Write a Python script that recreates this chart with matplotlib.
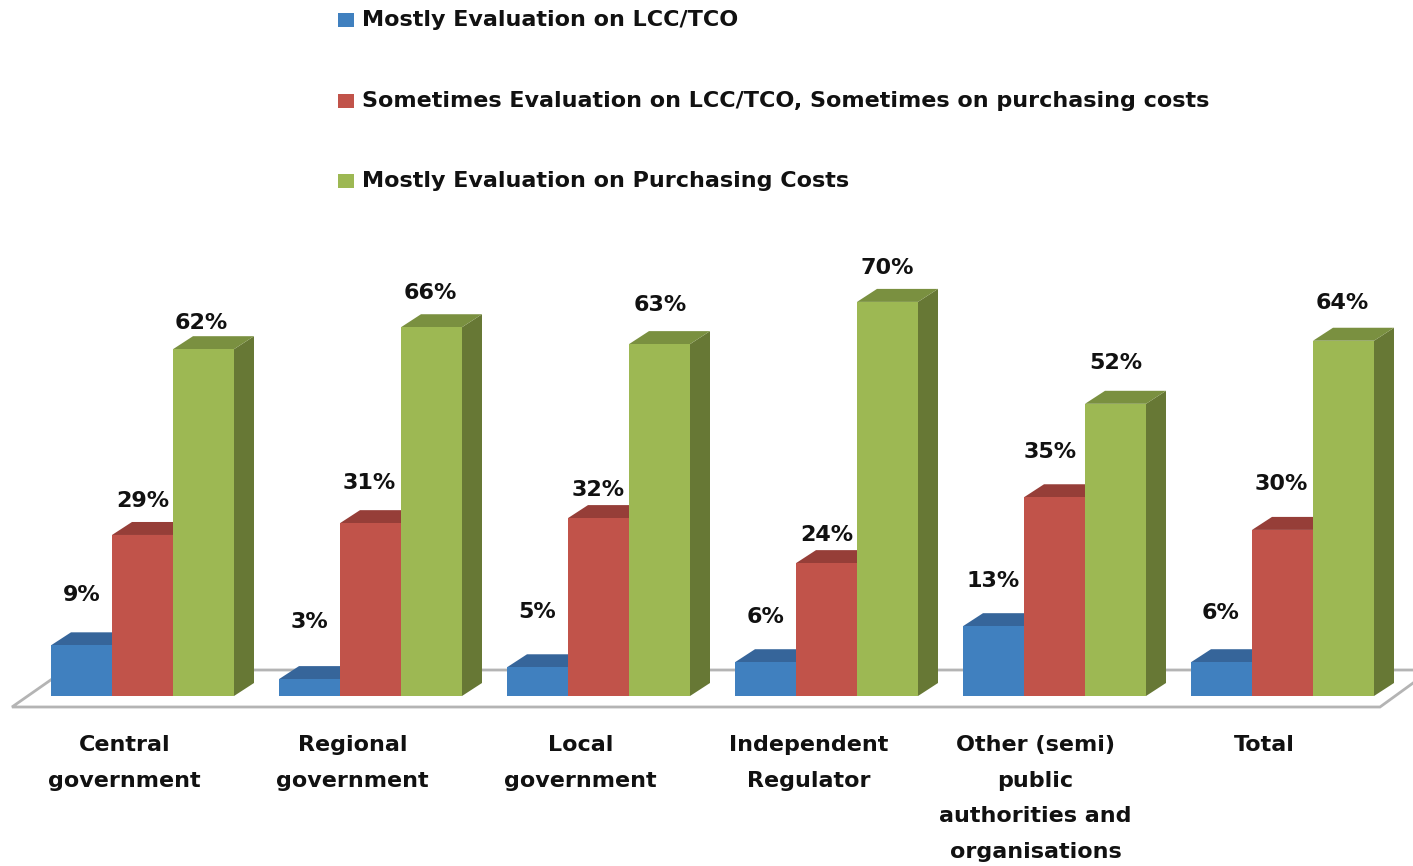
import numpy as np
import matplotlib
matplotlib.use("Agg")
import matplotlib.pyplot as plt
from matplotlib.patches import Polygon, Rectangle

categories = ["Central\ngovernment", "Regional\ngovernment", "Local\ngovernment",
              "Independent\nRegulator", "Other (semi)\npublic\nauthorities and\norganisations", "Total"]
series_names = ["Mostly Evaluation on LCC/TCO",
                "Sometimes Evaluation on LCC/TCO, Sometimes on purchasing costs",
                "Mostly Evaluation on Purchasing Costs"]
# printed labels
labels_lcc = ["9%", "3%", "5%", "6%", "13%", "6%"]
labels_some = ["29%", "31%", "32%", "24%", "35%", "30%"]
labels_purch = ["62%", "66%", "63%", "70%", "52%", "64%"]
# bar heights as drawn in the picture
mostly_lcc = [9.0, 3.0, 5.1, 6.0, 12.4, 6.0]
sometimes = [28.6, 30.7, 31.6, 23.6, 35.3, 29.5]
mostly_purchase = [61.6, 65.5, 62.5, 70.0, 51.9, 63.1]

front = ["#4080BF", "#C1534A", "#9DB853"]
top = ["#36659A", "#963E38", "#7A9040"]
side = ["#2F5A88", "#863833", "#677835"]

W, H = 1413, 866
PX_X = 228.0      # px per group
PX_Y = 5.63       # px per percent
X0, Y0 = 51.0, 696.0
BW = 61.0 / PX_X
DX = 20.0 / PX_X
DY = 13.0 / PX_Y

# where each value label sits above its bar, px
lift = [[50, 57, 55, 45, 45, 49],
        [34, 40, 28, 28, 45, 46],
        [26, 34, 39, 34, 41, 38]]
nudge = [[0, 0, 0, 0, 0, -1],
         [0, -1, 0, 0, -4, -1],
         [-2, -1, 1, 0, 0, -1]]
cat_shift = [-18, -18, -18, -18, -19, -18]

fig = plt.figure(figsize=(W / 100, H / 100), dpi=100)
ax = fig.add_axes([0, 0, 1, 1])
ax.set_xlim(-X0 / PX_X, (W - X0) / PX_X)
ax.set_ylim(-(H - Y0) / PX_Y, Y0 / PX_Y)
ax.axis("off")

def px(x, y):
    return ((x - X0) / PX_X, (Y0 - y) / PX_Y)

# floor
floor = [px(12, 707), px(1380, 707), px(1431, 670), px(65, 670)]
ax.add_patch(Polygon(floor, closed=True, fc="white", ec="#B4B4B4", lw=2, zorder=1))

all_vals = [mostly_lcc, sometimes, mostly_purchase]
all_labels = [labels_lcc, labels_some, labels_purch]
for g in range(len(categories)):
    for s, vals in enumerate(all_vals):
        v = vals[g]
        x = g + s * BW
        ax.add_patch(Polygon([(x + BW, 0), (x + BW + DX, DY), (x + BW + DX, v + DY), (x + BW, v)],
                             closed=True, fc=side[s], ec="none", zorder=2 + s))
        ax.add_patch(Polygon([(x, v), (x + DX, v + DY), (x + BW + DX, v + DY), (x + BW, v)],
                             closed=True, fc=top[s], ec="none", zorder=2 + s))
        ax.add_patch(Rectangle((x, 0), BW, v, fc=front[s], ec="none", zorder=2 + s))
        ax.text(x + BW / 2 + nudge[s][g] / PX_X, v + lift[s][g] / PX_Y, all_labels[s][g],
                ha="center", va="center", fontsize=16, fontweight="bold", color="#111111", zorder=10)
    ax.text(g + 1.5 * BW + cat_shift[g] / PX_X, (Y0 - 735) / PX_Y, categories[g], ha="center", va="top",
            fontsize=16, fontweight="bold", color="#111111", linespacing=1.97, zorder=10)

# legend
for name, c, yy in zip(series_names, front, [20, 101, 181]):
    lx, ly = px(338, yy + 7)
    ax.add_patch(Rectangle((lx, ly), 16 / PX_X, 14 / PX_Y, fc=c, ec="none"))
    tx, ty = px(362, yy)
    ax.text(tx, ty, name, ha="left", va="center", fontsize=16, fontweight="bold", color="#111111")

fig.savefig("out.png", dpi=100)
